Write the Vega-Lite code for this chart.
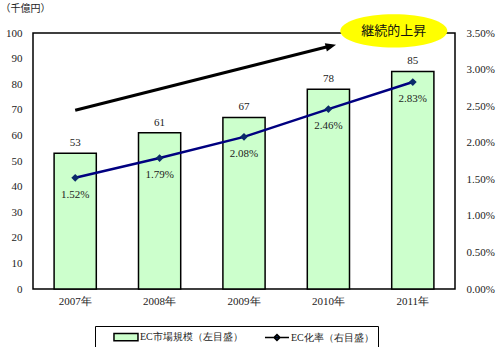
{
  "$schema": "https://vega.github.io/schema/vega-lite/v6.json",
  "autosize": {"type": "none"},
  "padding": {"left": 33, "top": 33, "right": 45, "bottom": 58},
  "width": 422,
  "height": 256,
  "background": "white",
  "datasets": {
    "main": [
      {"year": "2007年", "market": 53, "rate": 0.0152},
      {"year": "2008年", "market": 61, "rate": 0.0179},
      {"year": "2009年", "market": 67, "rate": 0.0208},
      {"year": "2010年", "market": 78, "rate": 0.0246},
      {"year": "2011年", "market": 85, "rate": 0.0283}
    ],
    "arrow": [
      {"year": "2007年", "market": 69.8},
      {"year": "2010年", "market": 94.7}
    ],
    "arrowhead": [
      {"year": "2010年", "market": 94.9}
    ],
    "note": [
      {"year": "2011年", "market": 100.8, "label": "継続的上昇"}
    ],
    "empty": []
  },
  "resolve": {"scale": {"y": "independent"}},
  "layer": [
    {
      "layer": [
        {
          "data": {"name": "main"},
          "mark": {"type": "bar", "stroke": "black", "strokeWidth": 1.5},
          "encoding": {
            "x": {"field": "year", "type": "nominal", "sort": null, "scale": {"paddingInner": 0.5, "paddingOuter": 0.25}, "title": null},
            "y": {"field": "market", "type": "quantitative", "scale": {"domain": [0, 100]}, "title": "（千億円）",
                  "axis": {"orient": "left", "values": [0,10,20,30,40,50,60,70,80,90,100], "labelOverlap": false, "labelPadding": 11, "titleAngle": 0, "titleX": -33, "titleY": -25, "titleAlign": "left", "titleBaseline": "middle", "titleFont": "Noto Sans CJK JP", "titleFontSize": 10, "titleFontWeight": "normal", "titleColor": "#222"}},
            "color": {"datum": "EC市場規模（左目盛）", "type": "nominal",
              "scale": {"domain": ["EC市場規模（左目盛）", "EC化率（右目盛）"], "range": ["#CCFFCC", "#0A2A6A"]},
              "legend": {
                "title": null, "orient": "none", "legendX": 62, "legendY": 293, "direction": "horizontal",
                "strokeColor": "black", "fillColor": "white", "padding": 4,
                "symbolSize": 144, "labelOffset": 27, "columnPadding": 7,
                "labelFont": "Liberation Serif", "labelFontSize": 10, "labelColor": "#222", "labelLimit": 300,
                "encode": {
                  "legend": {"update": {"strokeWidth": {"value": 1.5}}},
                  "symbols": {"update": {
                    "stroke": {"signal": "datum.value == 'EC化率（右目盛）' ? '#000080' : 'black'"},
                    "strokeWidth": {"signal": "datum.value == 'EC化率（右目盛）' ? 2 : 1.5"},
                    "opacity": {"value": 1}
                  }}
                }
              }}
          }
        },
        {
          "data": {"name": "main"},
          "mark": {"type": "text", "baseline": "bottom", "dy": -5, "font": "Liberation Serif", "fontSize": 11, "color": "#222"},
          "encoding": {
            "x": {"field": "year", "type": "nominal", "sort": null, "scale": {"paddingInner": 0.5, "paddingOuter": 0.25}, "title": null},
            "y": {"field": "market", "type": "quantitative", "scale": {"domain": [0, 100]}, "title": "（千億円）",
                  "axis": {"orient": "left", "values": [0,10,20,30,40,50,60,70,80,90,100], "labelOverlap": false, "labelPadding": 11, "titleAngle": 0, "titleX": -33, "titleY": -25, "titleAlign": "left", "titleBaseline": "middle", "titleFont": "Noto Sans CJK JP", "titleFontSize": 10, "titleFontWeight": "normal", "titleColor": "#222"}},
            "text": {"field": "market", "type": "quantitative"}
          }
        },
        {
          "data": {"name": "arrow"},
          "mark": {"type": "line", "color": "black", "strokeWidth": 3},
          "encoding": {
            "x": {"field": "year", "type": "nominal", "sort": null, "scale": {"paddingInner": 0.5, "paddingOuter": 0.25}, "title": null},
            "y": {"field": "market", "type": "quantitative", "scale": {"domain": [0, 100]}, "title": "（千億円）",
                  "axis": {"orient": "left", "values": [0,10,20,30,40,50,60,70,80,90,100], "labelOverlap": false, "labelPadding": 11, "titleAngle": 0, "titleX": -33, "titleY": -25, "titleAlign": "left", "titleBaseline": "middle", "titleFont": "Noto Sans CJK JP", "titleFontSize": 10, "titleFontWeight": "normal", "titleColor": "#222"}}
          }
        },
        {
          "data": {"name": "arrowhead"},
          "mark": {"type": "point", "shape": "M-1,-0.8L1,0L-1,0.8Z", "size": 110, "angle": -14, "filled": true, "color": "black", "opacity": 1},
          "encoding": {
            "x": {"field": "year", "type": "nominal", "sort": null, "bandPosition": 0.56, "scale": {"paddingInner": 0.5, "paddingOuter": 0.25}, "title": null},
            "y": {"field": "market", "type": "quantitative", "scale": {"domain": [0, 100]}, "title": "（千億円）",
                  "axis": {"orient": "left", "values": [0,10,20,30,40,50,60,70,80,90,100], "labelOverlap": false, "labelPadding": 11, "titleAngle": 0, "titleX": -33, "titleY": -25, "titleAlign": "left", "titleBaseline": "middle", "titleFont": "Noto Sans CJK JP", "titleFontSize": 10, "titleFontWeight": "normal", "titleColor": "#222"}}
          }
        },
        {
          "data": {"name": "note"},
          "mark": {"type": "point", "shape": "M-1,0A1,0.31 0 1,0 1,0A1,0.31 0 1,0 -1,0Z", "size": 11449, "filled": true, "color": "#FFFF00", "opacity": 1},
          "encoding": {
            "x": {"field": "year", "type": "nominal", "sort": null, "bandPosition": 0.05, "scale": {"paddingInner": 0.5, "paddingOuter": 0.25}, "title": null},
            "y": {"field": "market", "type": "quantitative", "scale": {"domain": [0, 100]}, "title": "（千億円）",
                  "axis": {"orient": "left", "values": [0,10,20,30,40,50,60,70,80,90,100], "labelOverlap": false, "labelPadding": 11, "titleAngle": 0, "titleX": -33, "titleY": -25, "titleAlign": "left", "titleBaseline": "middle", "titleFont": "Noto Sans CJK JP", "titleFontSize": 10, "titleFontWeight": "normal", "titleColor": "#222"}}
          }
        },
        {
          "data": {"name": "note"},
          "mark": {"type": "text", "font": "Noto Sans CJK JP", "fontSize": 13, "color": "#111", "baseline": "middle"},
          "encoding": {
            "x": {"field": "year", "type": "nominal", "sort": null, "bandPosition": 0.05, "scale": {"paddingInner": 0.5, "paddingOuter": 0.25}, "title": null},
            "y": {"field": "market", "type": "quantitative", "scale": {"domain": [0, 100]}, "title": "（千億円）",
                  "axis": {"orient": "left", "values": [0,10,20,30,40,50,60,70,80,90,100], "labelOverlap": false, "labelPadding": 11, "titleAngle": 0, "titleX": -33, "titleY": -25, "titleAlign": "left", "titleBaseline": "middle", "titleFont": "Noto Sans CJK JP", "titleFontSize": 10, "titleFontWeight": "normal", "titleColor": "#222"}},
            "text": {"field": "label", "type": "nominal"}
          }
        }
      ]
    },
    {
      "data": {"name": "main"},
      "layer": [
        {
          "mark": {"type": "line", "strokeWidth": 2.5, "color": "#000080"},
          "encoding": {
            "x": {"field": "year", "type": "nominal", "sort": null, "scale": {"paddingInner": 0.5, "paddingOuter": 0.25}, "title": null},
            "y": {"field": "rate", "type": "quantitative", "scale": {"domain": [0, 0.035]}, "title": null,
                  "axis": {"orient": "right", "format": ".2%", "values": [0, 0.005, 0.01, 0.015, 0.02, 0.025, 0.03, 0.035], "labelOverlap": false, "labelPadding": 11}}
          }
        },
        {
          "mark": {"type": "point", "shape": "diamond", "size": 60, "filled": true, "opacity": 1, "color": "#0A2A6A"},
          "encoding": {
            "x": {"field": "year", "type": "nominal", "sort": null, "scale": {"paddingInner": 0.5, "paddingOuter": 0.25}, "title": null},
            "y": {"field": "rate", "type": "quantitative", "scale": {"domain": [0, 0.035]}, "title": null,
                  "axis": {"orient": "right", "format": ".2%", "values": [0, 0.005, 0.01, 0.015, 0.02, 0.025, 0.03, 0.035], "labelOverlap": false, "labelPadding": 11}}
          }
        },
        {
          "mark": {"type": "text", "baseline": "middle", "dy": 17, "font": "Liberation Serif", "fontSize": 11, "color": "#222"},
          "encoding": {
            "x": {"field": "year", "type": "nominal", "sort": null, "scale": {"paddingInner": 0.5, "paddingOuter": 0.25}, "title": null},
            "y": {"field": "rate", "type": "quantitative", "scale": {"domain": [0, 0.035]}, "title": null,
                  "axis": {"orient": "right", "format": ".2%", "values": [0, 0.005, 0.01, 0.015, 0.02, 0.025, 0.03, 0.035], "labelOverlap": false, "labelPadding": 11}},
            "text": {"field": "rate", "type": "quantitative", "format": ".2%"}
          }
        },
        {
          "data": {"name": "empty"},
          "mark": {"type": "point", "filled": true, "opacity": 1},
          "encoding": {
            "color": {"datum": "EC化率（右目盛）", "type": "nominal",
              "legend": {
                "title": null, "orient": "none", "legendX": 62, "legendY": 293, "direction": "horizontal",
                "strokeColor": "black", "fillColor": "white", "padding": 4,
                "symbolSize": 144, "labelOffset": 27, "columnPadding": 7,
                "labelFont": "Liberation Serif", "labelFontSize": 10, "labelColor": "#222", "labelLimit": 300,
                "encode": {
                  "legend": {"update": {"strokeWidth": {"value": 1.5}}},
                  "symbols": {"update": {
                    "stroke": {"signal": "datum.value == 'EC化率（右目盛）' ? '#000080' : 'black'"},
                    "strokeWidth": {"signal": "datum.value == 'EC化率（右目盛）' ? 2 : 1.5"},
                    "opacity": {"value": 1}
                  }}
                }
              }},
            "shape": {"datum": "EC化率（右目盛）", "type": "nominal",
              "scale": {"domain": ["EC市場規模（左目盛）", "EC化率（右目盛）"], "range": ["M1.33,-0.6H5.33V0.6H1.33Z", "M1.33,0H5.33M3.33,-0.5L3.83,0L3.33,0.5L2.83,0Z"]},
              "legend": {
                "title": null, "orient": "none", "legendX": 62, "legendY": 293, "direction": "horizontal",
                "strokeColor": "black", "fillColor": "white", "padding": 4,
                "symbolSize": 144, "labelOffset": 27, "columnPadding": 7,
                "labelFont": "Liberation Serif", "labelFontSize": 10, "labelColor": "#222", "labelLimit": 300,
                "encode": {
                  "legend": {"update": {"strokeWidth": {"value": 1.5}}},
                  "symbols": {"update": {
                    "stroke": {"signal": "datum.value == 'EC化率（右目盛）' ? '#000080' : 'black'"},
                    "strokeWidth": {"signal": "datum.value == 'EC化率（右目盛）' ? 2 : 1.5"},
                    "opacity": {"value": 1}
                  }}
                }
              }}
          }
        }
      ]
    }
  ],
  "config": {
    "view": {"stroke": "black", "strokeWidth": 1.5},
    "axis": {"grid": false, "ticks": false, "domain": false, "labelOverlap": false, "labelFont": "Liberation Serif", "labelFontSize": 11, "labelColor": "#222"},
    "axisX": {"labelPadding": 6, "labelAngle": 0}
  }
}
